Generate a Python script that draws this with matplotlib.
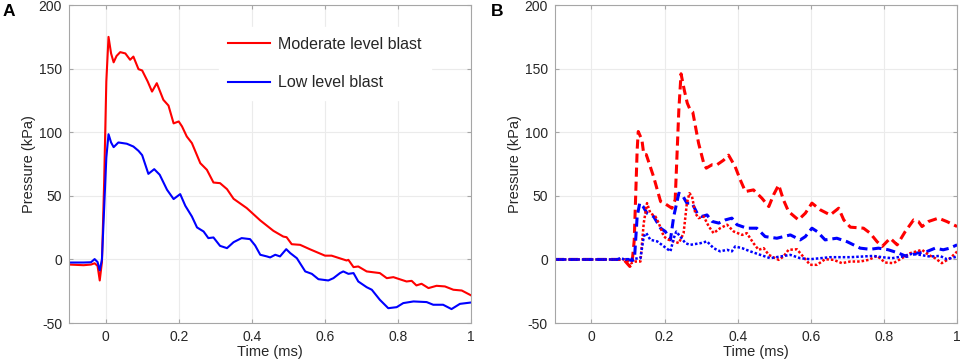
import matplotlib.pyplot as plt

# panel A: moderate vs low level blast (time in ms, pressure in kPa)
mod_t = [-0.1, -0.06, -0.04, -0.03, -0.022, -0.016, -0.01, -0.004, 0.002, 0.008,
         0.015, 0.022, 0.03, 0.04, 0.054, 0.067, 0.076, 0.09, 0.1, 0.115, 0.127,
         0.14, 0.158, 0.172, 0.186, 0.2, 0.209, 0.222, 0.236, 0.259, 0.277, 0.295,
         0.313, 0.332, 0.35, 0.386, 0.423, 0.459, 0.486, 0.495, 0.509, 0.532,
         0.559, 0.6, 0.618, 0.659, 0.664, 0.678, 0.691, 0.714, 0.75, 0.769, 0.787,
         0.823, 0.837, 0.85, 0.864, 0.883, 0.905, 0.928, 0.951, 0.974, 1.0]
mod_p = [-4, -4.5, -4, -3, -5, -16.5, -2, 60, 140, 175,
         162, 155, 160, 163, 162, 157, 159.5, 149.6, 148.6, 140, 132,
         138.6, 125.5, 121, 107, 108.5, 104.6, 96.7, 91.5, 75.7, 70.5, 60.5,
         60, 55.3, 47.7, 40.4, 30.7, 22.5, 18, 17.5, 12, 11.5,
         8, 3, 3, -0.8, -0.3, -6, -5.5, -9.4, -10.7, -14.7, -13.9,
         -17.3, -16.8, -20.4, -19.1, -22.5, -20.7, -21.2, -23.8, -24.4, -28.3]

low_t = [-0.1, -0.06, -0.04, -0.03, -0.022, -0.016, -0.01, -0.004, 0.002, 0.008,
         0.015, 0.022, 0.035, 0.058, 0.076, 0.09, 0.1, 0.117, 0.133, 0.148, 0.168,
         0.186, 0.204, 0.218, 0.236, 0.25, 0.268, 0.281, 0.295, 0.313, 0.332,
         0.35, 0.372, 0.395, 0.409, 0.423, 0.441, 0.45, 0.464, 0.477, 0.494,
         0.505, 0.523, 0.546, 0.564, 0.582, 0.609, 0.623, 0.641, 0.65, 0.664,
         0.678, 0.691, 0.714, 0.728, 0.75, 0.773, 0.796, 0.814, 0.842, 0.878,
         0.896, 0.923, 0.946, 0.969, 1.0]
low_p = [-2.4, -2.4, -2.2, 0.3, -2, -8.6, 0, 40, 80, 98.5,
         92, 88.3, 92, 91, 88.8, 85.4, 82, 67.3, 71, 66.6, 54.8,
         47.5, 51.4, 42.2, 33.8, 25.2, 22, 16.8, 17.3, 10.7, 8.9,
         13.6, 16.8, 16, 11, 3.7, 2.4, 1.6, 3.7, 2.4, 8.1,
         5, 1, -9.4, -11.3, -15.5, -16.5, -14.7, -10.7, -9.4, -11.3,
         -10.7, -17.3, -21.8, -23.8, -31.7, -38.3, -37.5, -34.3, -33, -33.5,
         -35.6, -35.6, -39, -34.9, -33.8]

# panel B: four traces
rdash_t = [-0.1, 0.088, 0.105, 0.111, 0.117, 0.125, 0.128, 0.138, 0.143, 0.15,
           0.17, 0.189, 0.202, 0.22, 0.229, 0.239, 0.245, 0.254, 0.262, 0.27,
           0.277, 0.293, 0.307, 0.314, 0.33, 0.343, 0.361, 0.375, 0.393, 0.407,
           0.421, 0.443, 0.466, 0.485, 0.498, 0.512, 0.525, 0.539, 0.566, 0.585,
           0.603, 0.626, 0.653, 0.676, 0.69, 0.708, 0.744, 0.762, 0.781, 0.795,
           0.817, 0.836, 0.858, 0.881, 0.894, 0.904, 0.922, 0.949, 0.972, 1.0]
rdash_p = [0, 0, -5.5, -3, 15, 86, 100.6, 94, 82.8, 82.4,
           65, 45.6, 43.7, 40.3, 47, 117.6, 146, 133, 123, 117.6,
           116, 91.4, 75.7, 71.8, 74.5, 74.4, 78, 82, 73, 62.6,
           53.4, 54.7, 48.2, 41.6, 50.8, 58.6, 46.9, 37.7, 31.1, 36.4,
           44.3, 39, 35, 40.3, 31.1, 25.4, 24.6, 20.7, 14, 10.2,
           16.7, 11.5, 21.9, 31.1, 29.9, 25.9, 29.9, 32.5, 29.8, 25.9]

bdash_t = [-0.1, 0.1, 0.112, 0.118, 0.125, 0.132, 0.141, 0.152, 0.17, 0.189,
           0.202, 0.216, 0.225, 0.239, 0.248, 0.261, 0.275, 0.289, 0.302, 0.316,
           0.33, 0.348, 0.366, 0.384, 0.398, 0.425, 0.452, 0.475, 0.507, 0.544,
           0.571, 0.585, 0.603, 0.617, 0.639, 0.671, 0.699, 0.735, 0.762, 0.785,
           0.812, 0.84, 0.862, 0.889, 0.917, 0.94, 0.962, 0.98, 1.0]
bdash_p = [0, 0, -1, 2, 33.8, 44.3, 41.7, 36.4, 33.8, 24.6,
           22, 15.5, 33.8, 52.1, 50.8, 44.3, 44.3, 36.4, 33.8, 35,
           29.9, 28.6, 31.1, 32.5, 27.3, 24.6, 24.6, 18, 16.7, 19.3,
           15.4, 18, 24.6, 22, 15.4, 16.7, 14, 8.9, 8, 8.9,
           7.6, 5, 2.3, 5, 6.2, 8.9, 7.6, 8.9, 11.5]

rdot_t = [-0.1, 0.09, 0.108, 0.12, 0.134, 0.143, 0.152, 0.161, 0.175, 0.184,
          0.198, 0.211, 0.225, 0.239, 0.252, 0.261, 0.268, 0.275, 0.284, 0.293,
          0.307, 0.321, 0.334, 0.352, 0.371, 0.389, 0.412, 0.425, 0.443, 0.457,
          0.471, 0.485, 0.512, 0.525, 0.539, 0.562, 0.575, 0.598, 0.617, 0.639,
          0.662, 0.685, 0.708, 0.735, 0.758, 0.781, 0.803, 0.826, 0.849, 0.872,
          0.904, 0.922, 0.94, 0.958, 0.981, 1.0]
rdot_p = [0, 0, -3, -1.6, -1.6, 28.6, 44.3, 36.4, 33.8, 28.6,
          18, 15.5, 14.2, 12.9, 20.7, 44.3, 52.1, 49.5, 36.4, 32.5,
          33.8, 25.9, 20.7, 24.6, 27.3, 22, 19.3, 20.7, 12.8, 7.6,
          8.9, 3.6, -0.3, 2.3, 7.6, 8, 3.6, -4.2, -4.2, 0.2,
          -0.3, -2.9, -1.6, -1.6, -0.3, 2.8, -2.4, -2.9, 1, 5,
          7.6, 3.6, 1, -2.9, 1, 6.2]

bdot_t = [-0.1, 0.07, 0.08, 0.09, 0.134, 0.143, 0.15, 0.161, 0.18, 0.198,
          0.216, 0.225, 0.232, 0.243, 0.257, 0.27, 0.298, 0.316, 0.334, 0.352,
          0.371, 0.384, 0.393, 0.412, 0.434, 0.462, 0.489, 0.516, 0.544, 0.571,
          0.598, 0.626, 0.653, 0.68, 0.708, 0.74, 0.771, 0.794, 0.822, 0.849,
          0.876, 0.899, 0.926, 0.953, 0.972, 1.0]
bdot_p = [0, 0, 1.2, 0, 1, 18, 20.7, 15.5, 14.2, 10.3,
          6.4, 16.7, 21.9, 18, 12.8, 11.5, 12.8, 14.2, 8.9, 6.4,
          7.6, 6.4, 10.2, 8.9, 6.4, 3.6, 1, 2.3, 3.6, 1,
          0.2, 1, 1.8, 1.8, 1.8, 2.3, 2.8, 1.8, 1, 2.3,
          4.4, 3.6, 2.3, 2.8, 0.2, 2.3]

RED = "#ff0000"
BLUE = "#0000ff"
TXT = "#262626"

plt.rcParams["font.family"] = ["Liberation Sans", "DejaVu Sans"]
plt.rcParams["axes.unicode_minus"] = False

fig = plt.figure(figsize=(9.6, 3.63), dpi=100)
ax_a = fig.add_axes([0.0719, 0.110, 0.419, 0.876])
ax_b = fig.add_axes([0.578, 0.110, 0.419, 0.876])


def style_axes(ax):
    ax.set_xlim(-0.1, 1)
    ax.set_ylim(-50, 200)
    ax.set_xticks([0, 0.2, 0.4, 0.6, 0.8, 1])
    ax.set_xticklabels(["0", "0.2", "0.4", "0.6", "0.8", "1"])
    ax.set_yticks([-50, 0, 50, 100, 150, 200])
    ax.grid(True, color="#ebebeb", linewidth=0.8)
    ax.set_axisbelow(True)
    for s in ax.spines.values():
        s.set_color("#a6a6a6")
        s.set_linewidth(0.8)
    ax.tick_params(direction="in", length=3, color="#a6a6a6",
                   labelsize=10, labelcolor=TXT, top=True, right=True, pad=5)
    ax.set_xlabel("Time (ms)", fontsize=10.5, color=TXT, labelpad=1)
    ax.set_ylabel("Pressure (kPa)", fontsize=10.5, color=TXT, labelpad=2)


style_axes(ax_a)
ax_a.plot(mod_t, mod_p, color=RED, lw=1.5, label="Moderate level blast")
ax_a.plot(low_t, low_p, color=BLUE, lw=1.5, label="Low level blast")
leg = ax_a.legend(loc="upper left", bbox_to_anchor=(0.352, 0.955), fontsize=11.5,
                  handlelength=2.6, handletextpad=0.5, labelspacing=1.45,
                  frameon=True, fancybox=False, borderpad=0.6)
leg.get_frame().set_edgecolor("white")
leg.get_frame().set_facecolor("white")
leg.get_frame().set_alpha(1)
for t in leg.get_texts():
    t.set_color(TXT)

style_axes(ax_b)
ax_b.plot(rdash_t, rdash_p, color=RED, lw=2.2, ls=(0, (3, 1.6)))
ax_b.plot(bdash_t, bdash_p, color=BLUE, lw=2.2, ls=(0, (3, 1.6)))
ax_b.plot(rdot_t, rdot_p, color=RED, lw=1.8, ls=(0, (1, 0.8)))
ax_b.plot(bdot_t, bdot_p, color=BLUE, lw=1.8, ls=(0, (1, 0.8)))

fig.text(0.003, 0.955, "A", fontsize=12.5, fontweight="bold", color="black")
fig.text(0.511, 0.955, "B", fontsize=12.5, fontweight="bold", color="black")

fig.savefig("out.png", dpi=100)
